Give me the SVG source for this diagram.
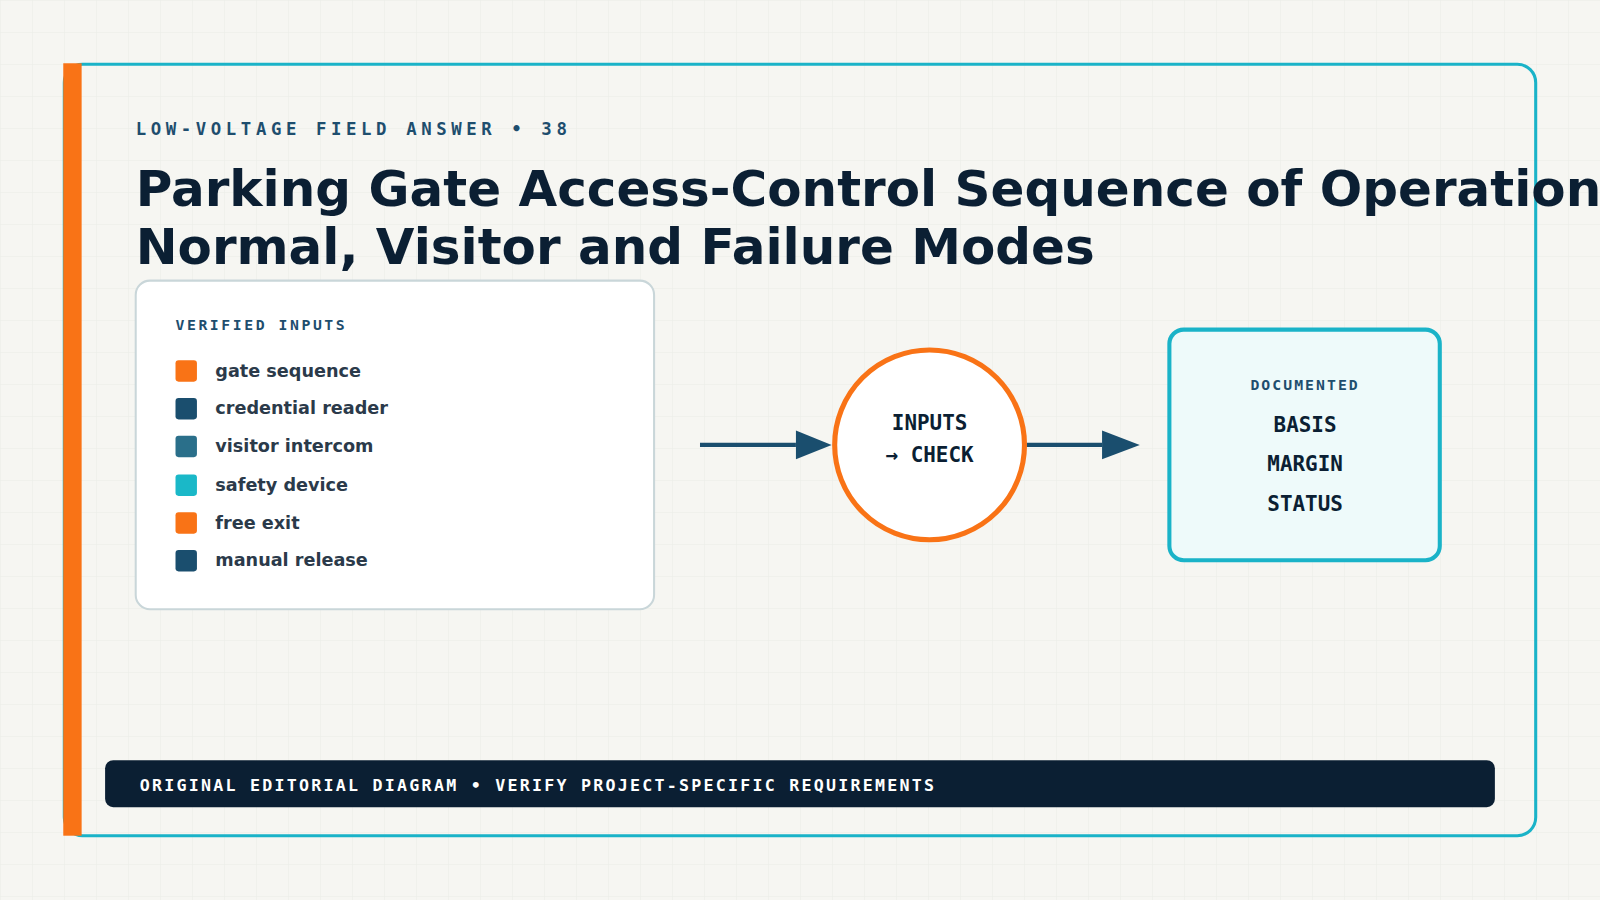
<svg xmlns="http://www.w3.org/2000/svg" width="1600" height="900" viewBox="0 0 1600 900">
<defs>
<pattern id="grid" width="32" height="32" patternUnits="userSpaceOnUse"><path d="M32 0H0V32" fill="none" stroke="#e9ece6" stroke-width="1"/></pattern>
<style>
.mono{font-family:"DejaVu Sans Mono","Liberation Mono",monospace;font-weight:bold}
.sans{font-family:"DejaVu Sans","Liberation Sans",sans-serif;font-weight:bold}
.item{font-size:17.3px;fill:#2b3a4a}
.sq{width:21px;height:21px;rx:3px}
.big{font-size:20.5px;fill:#0b1f33;text-anchor:middle}
</style>
</defs>
<rect width="1600" height="900" fill="#f6f6f2"/>
<rect width="1600" height="900" fill="url(#grid)"/>
<g transform="scale(1.0204)">
<rect x="63" y="63" width="1442" height="756" rx="18" fill="none" stroke="#1ab3c8" stroke-width="3"/>
<rect x="62" y="62" width="18" height="757" fill="#f97316"/>
<text class="mono" x="133" y="132" font-size="17" letter-spacing="4.5" fill="#1e4e6e">LOW-VOLTAGE FIELD ANSWER • 38</text>
<text class="sans" font-size="49" fill="#0b1f33"><tspan x="133" y="202">Parking Gate Access-Control Sequence of Operations:</tspan><tspan x="133" y="259">Normal, Visitor and Failure Modes</tspan></text>
<g id="inputs">
<rect x="133" y="275" width="508" height="322" rx="14" fill="#fff" stroke="#c9d6d9" stroke-width="2"/>
<text class="mono" x="172" y="323" font-size="14.5" letter-spacing="2.5" fill="#1e4e6e">VERIFIED INPUTS</text>
<rect class="sq" x="172" y="353" fill="#f97316"/><text class="sans item" x="211" y="369">gate sequence</text>
<rect class="sq" x="172" y="390" fill="#1a4e6e"/><text class="sans item" x="211" y="406">credential reader</text>
<rect class="sq" x="172" y="427" fill="#2a6f8a"/><text class="sans item" x="211" y="443">visitor intercom</text>
<rect class="sq" x="172" y="465" fill="#1ab8c8"/><text class="sans item" x="211" y="481">safety device</text>
<rect class="sq" x="172" y="502" fill="#f97316"/><text class="sans item" x="211" y="518">free exit</text>
<rect class="sq" x="172" y="539" fill="#1a4e6e"/><text class="sans item" x="211" y="555">manual release</text>
</g>
<g id="connectors" stroke="#1a4e6e" stroke-width="4" fill="none">
<path d="M686 436H780"/>
<path d="M780 422L815 436L780 450Z" fill="#1a4e6e" stroke="none"/>
<path d="M1006 436H1080"/>
<path d="M1080 422L1117 436L1080 450Z" fill="#1a4e6e" stroke="none"/>
</g>
<g id="check">
<circle cx="911" cy="436" r="93" fill="#fff" stroke="#f97316" stroke-width="5"/>
<text class="mono big" x="911" y="421">INPUTS</text>
<text class="mono big" x="911" y="453">→ CHECK</text>
</g>
<g id="documented">
<rect x="1146" y="323" width="265" height="226" rx="14" fill="#eefafa" stroke="#1ab3c8" stroke-width="4"/>
<text class="mono" x="1279" y="382" font-size="14.5" letter-spacing="2" text-anchor="middle" fill="#1e4e6e">DOCUMENTED</text>
<text class="mono big" x="1279" y="423">BASIS</text>
<text class="mono big" x="1279" y="462">MARGIN</text>
<text class="mono big" x="1279" y="501">STATUS</text>
</g>
<rect x="103" y="745" width="1362" height="46" rx="8" fill="#0b1f33"/>
<text class="mono" x="137" y="775" font-size="16.3" letter-spacing="2.2" fill="#fff">ORIGINAL EDITORIAL DIAGRAM • VERIFY PROJECT-SPECIFIC REQUIREMENTS</text>
</g>
</svg>
